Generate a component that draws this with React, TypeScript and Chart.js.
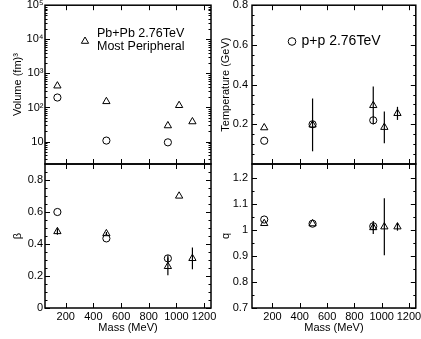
import React, { useEffect, useRef } from 'react';
import { Chart, registerables } from 'chart.js';

Chart.register(...registerables);

const W = 421;
const H = 339;
const FONT = "'Liberation Sans', Arial, Helvetica, sans-serif";

// ---- data ----
const massPbPb = [139.6, 493.7, 938.3, 1019.5, 1115.7];
const massPP = [139.6, 493.7, 938.3];

const volumePbPb = [431, 150, 29.3, 115, 38.4];
const volumePP = [196, 10.7, 9.5];

const tempPbPb = [0.183, 0.197, 0.295, 0.185, 0.255];
const tempPbPbErr = [0, 0.133, 0.095, 0.08, 0.033];
const tempPP = [0.117, 0.2, 0.22];

const betaPbPb = [0.478, 0.465, 0.26, 0.7, 0.31];
const betaPbPbErr = [0.02, 0.01, 0.055, 0, 0.068];
const betaPP = [0.6, 0.435, 0.31];
const betaPPErr = [0, 0, 0.02];

const qPbPb = [1.026, 1.025, 1.01, 1.013, 1.013];
const qPbPbErr = [0, 0, 0.025, 0.11, 0.015];
const qPP = [1.041, 1.025, 1.015];
const qPPErr = [0, 0, 0.01];

// ---- ticks ----
const massTicks = [200, 400, 600, 800, 1000, 1200];
const volumeTicks = [10, 100, 1000, 10000, 100000];
const tempTicks = [0.2, 0.4, 0.6, 0.8];
const tempMinor = [0.05, 0.1, 0.15, 0.25, 0.3, 0.35, 0.45, 0.5, 0.55, 0.65, 0.7, 0.75];
const betaTicks = [0, 0.2, 0.4, 0.6, 0.8];
const betaMinor = [0.05, 0.1, 0.15, 0.25, 0.3, 0.35, 0.45, 0.5, 0.55, 0.65, 0.7, 0.75, 0.85];
const qTicks = [0.7, 0.8, 0.9, 1, 1.1, 1.2];
const qMinor = [0.75, 0.85, 0.95, 1.05, 1.15];

const SUP: Record<string, string> = { '0': '⁰', '1': '¹', '2': '²', '3': '³', '4': '⁴', '5': '⁵', '6': '⁶', '7': '⁷', '8': '⁸', '9': '⁹' };
const logLabel = (v: number) => {
  const e = Math.round(Math.log10(v));
  return e === 1 ? '10' : '10' + String(e).split('').map((c) => SUP[c]).join('');
};
const linLabel = (v: number) => String(parseFloat(Number(v).toFixed(2)));

function logMinor(min: number, max: number) {
  const out: number[] = [];
  for (let d = 0; d < 6; d++) {
    for (let m = 2; m <= 9; m++) {
      const v = m * Math.pow(10, d);
      if (v > min && v < max) out.push(v);
    }
  }
  return out;
}

// ---- plugins ----
const frameTicksPlugin = {
  id: 'frameTicks',
  afterDraw(chart: any, _args: any, opts: any) {
    const { ctx, chartArea: a, scales } = chart;
    const xs = scales.x;
    const ys = scales.y;
    ctx.save();
    ctx.strokeStyle = '#000';
    ctx.lineWidth = 1;
    const seg = (x1: number, y1: number, x2: number, y2: number) => {
      ctx.beginPath();
      ctx.moveTo(x1, y1);
      ctx.lineTo(x2, y2);
      ctx.stroke();
    };
    const xTick = (vals: number[], len: number) =>
      vals.forEach((v) => {
        const px = Math.round(xs.getPixelForValue(v)) + 0.5;
        seg(px, a.bottom, px, a.bottom - len);
        seg(px, a.top, px, a.top + len);
      });
    const yTick = (vals: number[], len: number) =>
      vals.forEach((v) => {
        const py = Math.round(ys.getPixelForValue(v)) + 0.5;
        seg(a.left, py, a.left + len, py);
        seg(a.right, py, a.right - len, py);
      });
    xTick(opts.xMinor || [], opts.minorLen);
    xTick(opts.xMajor || [], opts.majorLen);
    yTick(opts.yMinor || [], opts.minorLen);
    yTick(opts.yMajor || [], opts.majorLen);
    ctx.lineWidth = 1.5;
    ctx.strokeRect(a.left, a.top, a.right - a.left, a.bottom - a.top);
    ctx.restore();
  },
};

const errorBarPlugin = {
  id: 'errorBars',
  beforeDatasetsDraw(chart: any) {
    const { ctx } = chart;
    const ys = chart.scales.y;
    ctx.save();
    ctx.strokeStyle = '#000';
    ctx.lineWidth = 1.2;
    chart.data.datasets.forEach((ds: any, i: number) => {
      const errs = ds.errors;
      if (!errs) return;
      const meta = chart.getDatasetMeta(i);
      meta.data.forEach((el: any, j: number) => {
        const e = errs[j];
        if (!e) return;
        const v = ds.data[j].y;
        const y1 = ys.getPixelForValue(v - e);
        const y2 = ys.getPixelForValue(v + e);
        ctx.beginPath();
        ctx.moveTo(el.x, y1);
        ctx.lineTo(el.x, y2);
        ctx.stroke();
      });
    });
    ctx.restore();
  },
};

const panelLegendPlugin = {
  id: 'panelLegend',
  afterDraw(chart: any, _args: any, opts: any) {
    if (!opts || !opts.lines) return;
    const { ctx, chartArea: a } = chart;
    ctx.save();
    ctx.strokeStyle = '#000';
    ctx.fillStyle = '#000';
    ctx.lineWidth = 1;
    const mx = a.left + opts.markerX;
    const my = a.top + opts.markerY;
    ctx.beginPath();
    if (opts.marker === 'triangle') {
      const r = opts.radius;
      for (let k = 0; k < 3; k++) {
        const ang = (k * 2 * Math.PI) / 3;
        const px = mx + Math.sin(ang) * r;
        const py = my - Math.cos(ang) * r;
        if (k === 0) ctx.moveTo(px, py);
        else ctx.lineTo(px, py);
      }
      ctx.closePath();
    } else {
      ctx.arc(mx, my, opts.radius, 0, Math.PI * 2);
    }
    ctx.stroke();
    ctx.font = `${opts.fontSize}px ${FONT}`;
    ctx.textBaseline = 'middle';
    ctx.textAlign = 'left';
    opts.lines.forEach((t: string, k: number) => {
      ctx.fillText(t, a.left + opts.textX, a.top + opts.textY[k]);
    });
    ctx.restore();
  },
};

// ---- panels ----
type Series = { x: number[]; y: number[]; style: 'triangle' | 'circle'; err?: number[] };
type Panel = {
  l: number; r: number; t: number; b: number;
  yWidth: number; xHeight: number;
  yType: 'linear' | 'logarithmic';
  yMin: number; yMax: number;
  yTicks: number[]; yMinor: number[];
  yLabel: (v: number) => string;
  yTitle: string; yTitlePad: number; yTickPad: number;
  showX: boolean;
  series: Series[];
  legend?: any;
};

const PANELS: Panel[] = [
  {
    l: 45, r: 211, t: 5, b: 164, yWidth: 45, xHeight: 0,
    yType: 'logarithmic', yMin: 2.2, yMax: 100000,
    yTicks: volumeTicks, yMinor: logMinor(2.2, 100000), yLabel: logLabel,
    yTitle: 'Volume (fm)³', yTitlePad: 11.5, yTickPad: 1.5, showX: false,
    series: [
      { x: massPbPb, y: volumePbPb, style: 'triangle' },
      { x: massPP, y: volumePP, style: 'circle' },
    ],
    legend: { marker: 'triangle', radius: 4.2, markerX: 40, markerY: 36, textX: 52, textY: [28.5, 41.7], lines: ['Pb+Pb 2.76TeV', 'Most Peripheral'], fontSize: 12.5 },
  },
  {
    l: 252, r: 419, t: 5, b: 164, yWidth: 40, xHeight: 0,
    yType: 'linear', yMin: 0, yMax: 0.8,
    yTicks: tempTicks, yMinor: tempMinor, yLabel: linLabel,
    yTitle: 'Temperature (GeV)', yTitlePad: 7.4, yTickPad: 4, showX: false,
    series: [
      { x: massPbPb, y: tempPbPb, style: 'triangle', err: tempPbPbErr },
      { x: massPP, y: tempPP, style: 'circle' },
    ],
    legend: { marker: 'circle', radius: 3.8, markerX: 40, markerY: 36.3, textX: 49.5, textY: [36.3], lines: ['p+p 2.76TeV'], fontSize: 14 },
  },
  {
    l: 45, r: 211, t: 164, b: 308, yWidth: 45, xHeight: 31,
    yType: 'linear', yMin: 0, yMax: 0.9,
    yTicks: betaTicks, yMinor: betaMinor, yLabel: linLabel,
    yTitle: 'β', yTitlePad: 11.5, yTickPad: 2, showX: true,
    series: [
      { x: massPbPb, y: betaPbPb, style: 'triangle', err: betaPbPbErr },
      { x: massPP, y: betaPP, style: 'circle', err: betaPPErr },
    ],
  },
  {
    l: 252, r: 419, t: 164, b: 308, yWidth: 40, xHeight: 31,
    yType: 'linear', yMin: 0.7, yMax: 1.255,
    yTicks: qTicks, yMinor: qMinor, yLabel: linLabel,
    yTitle: 'q', yTitlePad: 7.4, yTickPad: 4, showX: true,
    series: [
      { x: massPbPb, y: qPbPb, style: 'triangle', err: qPbPbErr },
      { x: massPP, y: qPP, style: 'circle', err: qPPErr },
    ],
  },
];

function buildConfig(p: Panel): any {
  return {
    type: 'scatter',
    data: {
      datasets: p.series.map((s) => ({
        data: s.x.map((x, i) => ({ x, y: s.y[i] })),
        pointStyle: s.style,
        pointRadius: s.style === 'triangle' ? 4.2 : 3.6,
        borderColor: '#000',
        backgroundColor: 'rgba(0,0,0,0)',
        borderWidth: 1,
        showLine: false,
        errors: s.err,
      })),
    },
    plugins: [errorBarPlugin, frameTicksPlugin, panelLegendPlugin],
    options: {
      responsive: false,
      animation: false,
      events: [],
      layout: {
        padding: { left: p.l - p.yWidth, right: W - p.r, top: p.t, bottom: H - p.b - p.xHeight },
      },
      scales: {
        x: {
          type: 'linear',
          position: 'bottom',
          min: 50,
          max: 1250,
          grid: { display: false, drawTicks: false },
          border: { display: false },
          afterBuildTicks: (sc: any) => { sc.ticks = massTicks.map((v) => ({ value: v })); },
          afterFit: (sc: any) => { sc.height = p.xHeight; sc.paddingLeft = 0; sc.paddingRight = 0; },
          ticks: {
            display: p.showX,
            autoSkip: false,
            maxRotation: 0,
            padding: 2,
            color: '#000',
            font: { family: FONT, size: 11 },
            callback: (v: number) => String(v),
          },
          title: {
            display: p.showX,
            text: 'Mass (MeV)',
            color: '#000',
            font: { family: FONT, size: 11 },
            padding: { top: 0, bottom: 4.4 },
          },
        },
        y: {
          type: p.yType,
          position: 'left',
          min: p.yMin,
          max: p.yMax,
          grid: { display: false, drawTicks: false },
          border: { display: false },
          afterBuildTicks: (sc: any) => { sc.ticks = p.yTicks.map((v) => ({ value: v })); },
          afterFit: (sc: any) => { sc.width = p.yWidth; sc.paddingTop = 0; sc.paddingBottom = 0; },
          ticks: {
            autoSkip: false,
            padding: p.yTickPad,
            color: '#000',
            font: { family: FONT, size: 11 },
            callback: (v: number) => p.yLabel(v),
          },
          title: {
            display: true,
            text: p.yTitle,
            color: '#000',
            font: { family: FONT, size: 11 },
            padding: { top: p.yTitlePad, bottom: 0 },
          },
        },
      },
      plugins: {
        legend: { display: false },
        tooltip: { enabled: false },
        frameTicks: {
          xMajor: massTicks,
          xMinor: [],
          yMajor: p.yTicks,
          yMinor: p.yMinor,
          majorLen: 5,
          minorLen: 2.5,
        },
        panelLegend: p.legend || {},
      },
    },
  };
}

export default function App() {
  const canvases = useRef<(HTMLCanvasElement | null)[]>([]);
  useEffect(() => {
    const charts = PANELS.map((p, i) => new Chart(canvases.current[i] as HTMLCanvasElement, buildConfig(p)));
    return () => charts.forEach((c) => c.destroy());
  }, []);
  return (
    <div style={{ position: 'fixed', left: 0, top: 0, width: W, height: H, background: '#fff' }}>
      {PANELS.map((_, i) => (
        <canvas
          key={i}
          ref={(el) => { canvases.current[i] = el; }}
          width={W}
          height={H}
          style={{ position: 'absolute', left: 0, top: 0, width: W, height: H }}
        />
      ))}
    </div>
  );
}
